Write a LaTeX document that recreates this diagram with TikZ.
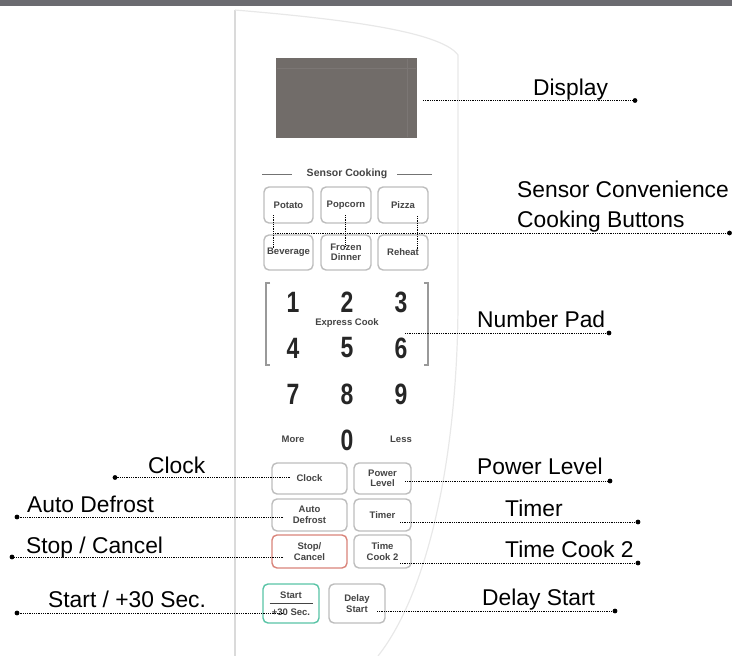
\documentclass[tikz,border=0pt]{standalone}
\usepackage{fontspec}
\usepackage{graphicx}
\setmainfont{Liberation Sans}
\definecolor{topbar}{HTML}{6B6B70}
\definecolor{dispgray}{HTML}{716C69}
\definecolor{btngray}{HTML}{BDBDBD}
\definecolor{btntext}{HTML}{444444}
\definecolor{stopred}{HTML}{D9847A}
\definecolor{startteal}{HTML}{59C4A6}
\definecolor{panelline}{HTML}{DADADA}
\definecolor{panelfaint}{HTML}{E8E8E8}
\newcommand\lblfont{\fontsize{22.8}{27}\selectfont}
\newcommand\btnfont{\fontsize{9.5}{10.5}\selectfont\bfseries}
\newcommand\dg[1]{\scalebox{0.82}[1.05]{#1}}
\tikzset{
  btn/.style={draw=btngray, line width=1.4pt, rounded corners=5pt, fill=white,
    font=\btnfont, text=btntext, align=center, inner sep=0pt},
  lbl/.style={font=\lblfont, inner sep=0pt, anchor=base west, text=black},
  leader/.style={black, line width=0.7pt, dash pattern=on 0.7pt off 1.1pt},
  enddot/.style={circle, fill=black, inner sep=0pt, minimum size=4.8pt},
  digit/.style={font=\fontsize{28}{28}\selectfont\bfseries, text=black!85, inner sep=0pt},
  small/.style={font=\fontsize{9.5}{10}\selectfont\bfseries, text=btntext, inner sep=0pt},
  bracket/.style={draw=black!40, line width=1.2pt},
}
\begin{document}
\begin{tikzpicture}[x=1pt,y=-1pt]
\useasboundingbox (0,0) rectangle (732,656);
% top bar
\fill[topbar] (0,0) rectangle (732,6);
% panel outline
\draw[panelline, line width=1.2pt] (235,656) -- (235,10);
\draw[panelfaint, line width=1.2pt] (235,10) .. controls (330,18) and (440,30) .. (458,55)
  -- (458,300) .. controls (458,450) and (430,590) .. (378,656);
% display
\node[fill=dispgray, minimum width=141pt, minimum height=80pt, inner sep=0pt] (display) at (346.5,98) {};
\draw[dispgray!93!white, line width=0.5pt] (277,68) -- (416,68);
\draw[dispgray!93!white, line width=0.5pt] (407,59) -- (407,137);
% sensor cooking header
\node[small, font=\fontsize{10.5}{11}\selectfont\bfseries] (sensorhdr) at (347,174) {Sensor Cooking};
\draw[black!55, line width=1pt] (262,174) -- (292,174);
\draw[black!55, line width=1pt] (397,174) -- (432,174);
% sensor buttons
\node[btn, minimum width=49pt, minimum height=36pt] (potato) at (288.5,205) {Potato};
\node[btn, minimum width=50pt, minimum height=36pt] (popcorn) at (346,205) {Popcorn};
\node[btn, minimum width=50pt, minimum height=36pt] (pizza) at (403,205) {Pizza};
\node[btn, minimum width=49pt, minimum height=35pt] (beverage) at (288.5,252.5) {Beverage};
\node[btn, minimum width=50pt, minimum height=35pt] (frozen) at (346,252.5) {Frozen\\Dinner};
\node[btn, minimum width=50pt, minimum height=35pt] (reheat) at (403,252.5) {Reheat};
% number pad
\draw[bracket] (270,283) -- (266,283) -- (266,365) -- (270,365);
\draw[bracket] (424,283) -- (428,283) -- (428,365) -- (424,365);
\node[digit] (k1) at (293,302) {\dg{1}};
\node[digit] (k2) at (347,302) {\dg{2}};
\node[digit] (k3) at (401,302) {\dg{3}};
\node[small] (express) at (347,323) {Express Cook};
\node[digit] (k4) at (293,348) {\dg{4}};
\node[digit] (k5) at (347,348) {\dg{5}};
\node[digit] (k6) at (401,348) {\dg{6}};
\node[digit] (k7) at (293,394) {\dg{7}};
\node[digit] (k8) at (347,394) {\dg{8}};
\node[digit] (k9) at (401,394) {\dg{9}};
\node[digit] (k0) at (347,440) {\dg{0}};
\node[small] (more) at (293,439) {More};
\node[small] (less) at (401,439) {Less};
% function buttons
\node[btn, minimum width=75pt, minimum height=31pt] (clock) at (309.5,478.5) {Clock};
\node[btn, minimum width=57pt, minimum height=31pt] (power) at (382.5,478.5) {Power\\Level};
\node[btn, minimum width=75pt, minimum height=32pt] (auto) at (309.5,515) {Auto\\Defrost};
\node[btn, minimum width=57pt, minimum height=32pt] (timer) at (382.5,515) {Timer};
\node[btn, draw=stopred, minimum width=75pt, minimum height=33pt] (stop) at (309.5,551.5) {Stop/\\Cancel};
\node[btn, minimum width=57pt, minimum height=33pt] (timecook) at (382.5,551.5) {Time\\Cook 2};
\node[btn, draw=startteal, minimum width=56pt, minimum height=39pt, align=center,
  font=\fontsize{9.5}{17.5}\selectfont\bfseries] (start) at (291,603.5) {Start\\+30 Sec.};
\draw[btntext, line width=0.8pt] ([xshift=-21.5pt]start.center) -- ([xshift=21.5pt]start.center);
\node[btn, minimum width=56pt, minimum height=39pt] (delay) at (357,603.5) {Delay\\Start};
% labels
\node[lbl] (lDisplay) at (533,95) {Display};
\node[lbl] (lSensor1) at (517,197) {Sensor Convenience};
\node[lbl] (lSensor2) at (517,227) {Cooking Buttons};
\node[lbl] (lNumber) at (477,327) {Number Pad};
\node[lbl] (lPower) at (477,474) {Power Level};
\node[lbl] (lTimer) at (505,516) {Timer};
\node[lbl] (lTimeCook) at (505,557) {Time Cook 2};
\node[lbl] (lDelay) at (482,605) {Delay Start};
\node[lbl] (lClock) at (148,473) {Clock};
\node[lbl] (lAuto) at (27,512) {Auto Defrost};
\node[lbl] (lStop) at (26,553) {Stop / Cancel};
\node[lbl] (lStart) at (48,607) {Start / +30 Sec.};
% leader start points
\coordinate (aDisplay) at (423,100.5);
\coordinate (aSensor) at (273,233);
\coordinate (aNumber) at (405,333);
\coordinate (aPower) at (405,481);
\coordinate (aTimer) at (400,522);
\coordinate (aTimeCook) at (400,563);
\coordinate (aDelay) at (377,611);
\coordinate (aClock) at (290,477.5);
\coordinate (aAuto) at (283,517);
\coordinate (aStop) at (283,557);
\coordinate (aStart) at (283,613);
% end dots
\node[enddot] (dDisplay) at (635,100.5) {};
\node[enddot] (dSensor) at (729.5,233) {};
\node[enddot] (dNumber) at (609,333) {};
\node[enddot] (dPower) at (610,481) {};
\node[enddot] (dTimer) at (638,522) {};
\node[enddot] (dTimeCook) at (638,563) {};
\node[enddot] (dDelay) at (615,611) {};
\node[enddot] (dClock) at (115,477.5) {};
\node[enddot] (dAuto) at (17,517) {};
\node[enddot] (dStop) at (12,557) {};
\node[enddot] (dStart) at (17,613) {};
% leaders
\foreach \n in {Display,Sensor,Number,Power,Timer,TimeCook,Delay,Clock,Auto,Stop,Start}
  \draw[leader] (a\n) -- (d\n.center);
% sensor verticals
\coordinate (vPotA) at (273,215);  \coordinate (vPotB) at (273,248);
\coordinate (vPopA) at (345,215);  \coordinate (vPopB) at (345,247);
\coordinate (vPizA) at (417,216);  \coordinate (vPizB) at (417,249);
\draw[leader] (vPotA) -- (vPotB);
\draw[leader] (vPopA) -- (vPopB);
\draw[leader] (vPizA) -- (vPizB);
\end{tikzpicture}
\end{document}
